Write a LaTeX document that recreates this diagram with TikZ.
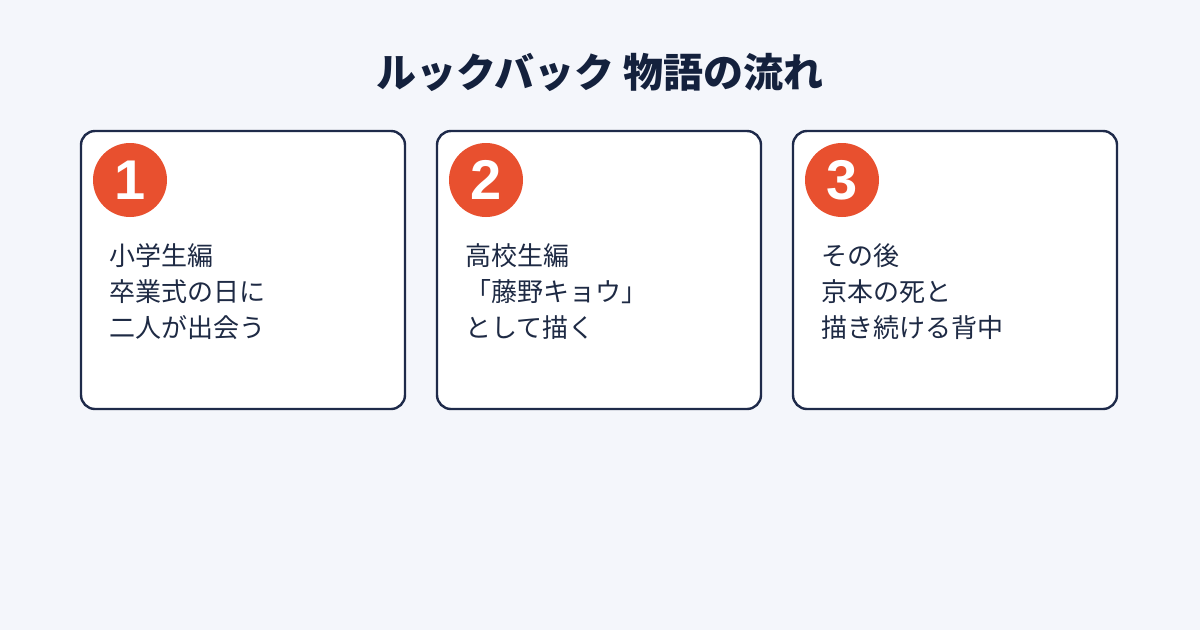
\documentclass[tikz,border=0pt]{standalone}
\usepackage{fontspec}
\newfontfamily\cjk{Noto Sans CJK JP}
\newfontfamily\digitfont{Liberation Sans}
\definecolor{bgc}{HTML}{F4F6FB}
\definecolor{navy}{HTML}{1E2A4A}
\definecolor{titlec}{HTML}{14213D}
\definecolor{orng}{HTML}{E8502F}
\definecolor{txtc}{HTML}{1E2A44}
\tikzset{
  card/.style={draw=navy, line width=2.4pt, fill=white, rounded corners=14pt},
  numdot/.style={circle, fill=orng, minimum size=74pt, inner sep=0pt, text=white,
    font=\digitfont\bfseries\fontsize{56}{56}\selectfont},
  line/.style={anchor=base west, inner sep=0pt, text=txtc, font=\cjk\fontsize{26}{26}\selectfont},
}
\begin{document}
\begin{tikzpicture}[x=1pt,y=-1pt]
\fill[bgc] (0,0) rectangle (1200,630);
\useasboundingbox (0,0) rectangle (1200,630);
\node[anchor=base, inner sep=0pt, text=titlec, font=\cjk\bfseries\fontsize{40}{40}\selectfont] (title) at (600,87) {ルックバック 物語の流れ};
\foreach \i/\x/\a/\b/\c in {1/81/小学生編/卒業式の日に/二人が出会う, 2/437/高校生編/「藤野キョウ」/として描く, 3/793/その後/京本の死と/描き続ける背中}{
  \draw[card] (\x,131) rectangle ++(324,278);
  \node[numdot] (n\i) at (\x+49,180) {\i};
  \node[line] (l\i a) at (\x+28,265) {\a};
  \node[line] (l\i b) at (\x+28,301) {\b};
  \node[line] (l\i c) at (\x+28,337) {\c};
}
\end{tikzpicture}
\end{document}
